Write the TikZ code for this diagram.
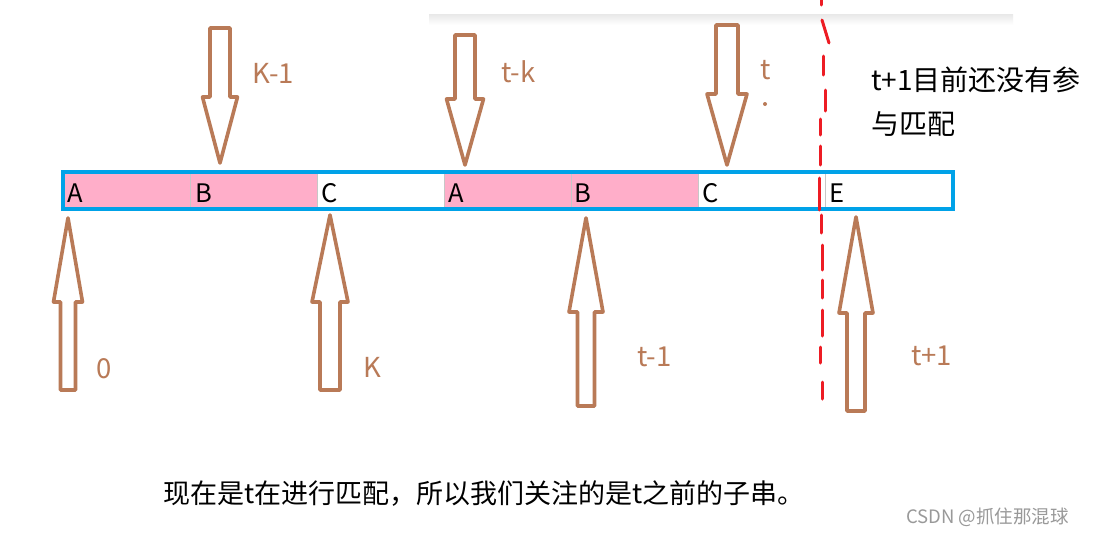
\documentclass[tikz,border=0pt]{standalone}
\usepackage{fontspec}
\setmainfont{Noto Sans CJK SC}
\definecolor{brn}{HTML}{B97A57}
\definecolor{pnk}{HTML}{FFAEC9}
\definecolor{blu}{HTML}{00A2E8}
\definecolor{rd}{HTML}{ED1C24}
\newcommand\blockarrow[6]{%
  \draw[blockarr] (#1,#2) -- (#1+#5,#3) -- (#1+#6,#3) -- (#1+#6,#4) -- (#1-#6,#4) -- (#1-#6,#3) -- (#1-#5,#3) -- cycle;}
\tikzset{
  blockarr/.style={draw=brn,line width=3.6pt,line join=round,fill=white},
  cellletter/.style={anchor=west,inner sep=0pt,font=\fontsize{25.5}{25.5}\selectfont,text=black},
  lbl/.style={anchor=west,inner sep=0pt,font=\fontsize{27.5}{27.5}\selectfont,text=brn},
  note/.style={anchor=west,inner sep=0pt,font=\fontsize{28}{28}\selectfont,text=black},
  reddash/.style={draw=rd,line width=3pt,line cap=round},
}
\begin{document}
\begin{tikzpicture}[x=1pt,y=-1pt]
\useasboundingbox[fill=white] (0,0) rectangle (1093,536);
% screenshot shadow strip
\shade[top color=black!9,bottom color=white] (429,14) rectangle (1013,25);
% cells
\fill[pnk] (63,172) rectangle (317,209);
\fill[pnk] (444,172) rectangle (698,209);
\foreach \xx in {190,317,444,571,698,825}
  \draw[black!22,line width=1pt] (\xx,172) -- (\xx,209);
\draw[blu,line width=4pt] (63,172) rectangle (953,209);
\node[cellletter] (c1) at (67,193) {A};
\node[cellletter] (c2) at (195,193) {B};
\node[cellletter] (c3) at (321,193) {C};
\node[cellletter] (c4) at (448,193) {A};
\node[cellletter] (c5) at (574,193) {B};
\node[cellletter] (c6) at (702,193) {C};
\node[cellletter] (c7) at (829,193) {E};
% red dashed separator
\draw[reddash] (821,0) -- (821,5);
\draw[reddash] (822,20) -- (829,43);
\draw[reddash] (823,56) -- (823,75);
\draw[reddash] (825,90) -- (825,111);
\draw[reddash] (820,119) -- (820,135);
\draw[reddash] (820,146) -- (820,165);
\draw[reddash] (819,178) -- (819,210);
\draw[reddash] (821,215) -- (821,233);
\draw[reddash] (822,245) -- (822,270);
\draw[reddash] (822,280) -- (822,298);
\draw[reddash] (822,310) -- (822,336);
\draw[reddash] (820,347) -- (820,363);
\draw[reddash] (822,382) -- (822,399);
% down arrows
\blockarrow{220}{163}{97}{28}{17.5}{10}
\blockarrow{465}{165}{99}{35}{18.5}{10}
\blockarrow{727}{165}{94}{25}{20}{11}
% up arrows
\blockarrow{68}{218}{302}{390}{14.5}{7.5}
\blockarrow{330}{215}{302}{390}{18}{10}
\blockarrow{586}{218}{312}{406}{17}{8.5}
\blockarrow{856}{217}{313}{411}{17}{9}
% labels
\node[lbl] (lk1) at (252,73) {K-1};
\node[lbl] (ltk) at (501,72) {t-k};
\node[lbl] (lt) at (760,70) {t};
\fill[brn] (765,104) circle (2);
\node[lbl] (l0) at (96,369) {0};
\node[lbl] (lk) at (363,367) {K};
\node[lbl] (lt1) at (637,357) {t-1};
\node[lbl] (ltp1) at (911,356) {t+1};
% notes
\node[note] (n1) at (871,80) {t+1目前还没有参};
\node[note] (n2) at (871,124) {与匹配};
\node[note,font=\fontsize{27}{27}\selectfont] (n3) at (163,494) {现在是t在进行匹配，所以我们关注的是t之前的子串。};
\node[anchor=west,inner sep=0pt,font=\fontsize{18.5}{18.5}\selectfont,text=black!40] (wm) at (906,517) {CSDN @抓住那混球};
\end{tikzpicture}
\end{document}
